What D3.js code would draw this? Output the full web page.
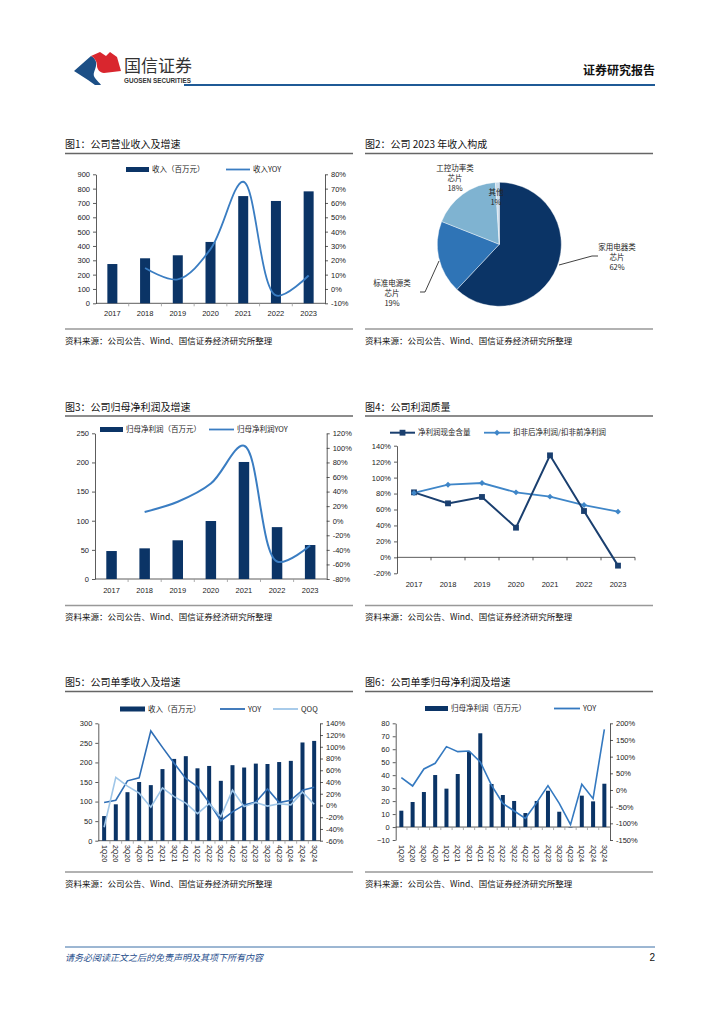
<!DOCTYPE html>
<html>
<head>
<meta charset="utf-8">
<script src="https://cdn.jsdelivr.net/npm/d3@7.9.0/dist/d3.min.js"></script>
<style>
  body { margin: 0; background: #fff; }
  svg { display: block; font-family: "Liberation Sans", "Noto Sans CJK SC", sans-serif; }
  .cn { font-family: "Noto Sans CJK SC", sans-serif; }
  .axis text { font-size: 7.5px; fill: #222; font-family: "Liberation Sans", sans-serif; }
  .axis path, .axis line { stroke: #333; stroke-width: 0.8; }
</style>
</head>
<body>
<svg id="page" width="724" height="1024"></svg>
<script>
// ---- data ----
const years = ['2017', '2018', '2019', '2020', '2021', '2022', '2023'];
const revenue = [274, 314, 335, 428, 748, 714, 781];
const revenueYoY = [null, 14.6, 6.7, 27.8, 74.8, -4.5, 9.4];

const pieLabels = [['家用电器类', '芯片'], ['标准电源类', '芯片'], ['工控功率类', '芯片'], ['其他']];
const pieShares = [62, 19, 18, 1];

const netProfit = [48, 52.6, 66.4, 99.5, 200.8, 89, 58.3];
const netProfitYoY = [null, 12, 26, 51, 103, -56, -34];

const cashContent = [81.5, 67.7, 75.7, 37.2, 127.9, 58.1, -10.4];
const deductRatio = [80.7, 91.1, 93.2, 81.5, 76.1, 65.6, 57.3];

const quarters = ['1Q20', '2Q20', '3Q20', '4Q20', '1Q21', '2Q21', '3Q21', '4Q21', '1Q22', '2Q22',
  '3Q22', '4Q22', '1Q23', '2Q23', '3Q23', '4Q23', '1Q24', '2Q24', '3Q24'];
const qRevenue = [63, 93, 124, 150, 142, 183, 209, 216, 185, 191, 153, 193, 187, 197, 196, 201, 204, 251, 255];
const qRevenueYoY = [5, 9, 42, 47, 127, 99, 72, 46, 32, 5, -26, -11, 1, 6, 28, 5, 9, 26, 31];
const qRevenueQoQ = [-37, 48, 33, 21, -3, 30, 15, 4, -14, 3, -19, 26, -2, 5, -1, 3, 1, 23, 2];

const qProfit = [12.6, 19.3, 27, 40.1, 29.6, 40.9, 58.1, 72.3, 33.2, 24.7, 20.1, 10.8, 20.1, 28, 11.8, -0.3, 24.2, 19.8, 33.4];
const qProfitYoY = [37, 12, 63, 80, 130, 115, 117, 84, 14, -40, -63, -85, -38, 13, -40, -104, 17, -26, 182];

const navy = '#0b3466';
const svg = d3.select('#page');

// ---- header / footer ----
const logo = svg.append('g');
logo.append('path')
  .attr('d', 'M74,71 L91,56 C95,58 97,62 96,66 C95,71 92,74 95,78 C97,81 100,83 101,85 L95,85 L88,80 Z')
  .attr('fill', '#1c4f86');
logo.append('path')
  .attr('d', 'M91,56 L100,52 L106,56 L110,52 L117,57 L121,71 L104,73 C100,73 97,69 97,66 C97,62 95,58 91,56 Z')
  .attr('fill', '#d9262e');
svg.append('text').attr('class', 'cn').attr('x', 124).attr('y', 72)
  .attr('font-size', 17).attr('fill', '#333').text('国信证券');
svg.append('text').attr('x', 124).attr('y', 83)
  .attr('font-size', 6.3).attr('font-weight', 'bold').attr('fill', '#333').text('GUOSEN SECURITIES');
svg.append('text').attr('class', 'cn').attr('x', 655).attr('y', 75).attr('text-anchor', 'end')
  .attr('font-size', 12).attr('font-weight', 'bold').attr('fill', '#111').text('证券研究报告');
svg.append('line').attr('x1', 184).attr('x2', 655).attr('y1', 85).attr('y2', 85)
  .attr('stroke', '#1f5a96').attr('stroke-width', 2);

svg.append('line').attr('x1', 65).attr('x2', 655).attr('y1', 947).attr('y2', 947)
  .attr('stroke', '#3b6fa6').attr('stroke-width', 1);
svg.append('text').attr('class', 'cn').attr('x', 65).attr('y', 961)
  .attr('font-size', 9).attr('font-style', 'italic').attr('fill', '#1f4e8c')
  .text('请务必阅读正文之后的免责声明及其项下所有内容');
svg.append('text').attr('x', 655).attr('y', 961).attr('text-anchor', 'end')
  .attr('font-size', 10).attr('fill', '#111').text('2');

// ---- panel frames (title, rules, source) ----
function frame(x, title, titleY, ruleY, srcY) {
  svg.append('text').attr('class', 'cn').attr('x', x).attr('y', titleY)
    .attr('font-size', 10).attr('fill', '#111').text(title);
  svg.append('line').attr('x1', x).attr('x2', x + 288).attr('y1', titleY + 5.5).attr('y2', titleY + 5.5)
    .attr('stroke', '#666').attr('stroke-width', 1.3);
  svg.append('line').attr('x1', x).attr('x2', x + 288).attr('y1', ruleY).attr('y2', ruleY)
    .attr('stroke', '#999').attr('stroke-width', 1.3);
  svg.append('text').attr('class', 'cn').attr('x', x).attr('y', srcY)
    .attr('font-size', 8.5).attr('fill', '#111').text('资料来源：公司公告、Wind、国信证券经济研究所整理');
}
frame(65, '图1：公司营业收入及增速', 148, 329, 343.5);
frame(365, '图2：公司 2023 年收入构成', 148, 329, 343.5);
frame(65, '图3：公司归母净利润及增速', 410.5, 605.5, 619.5);
frame(365, '图4：公司利润质量', 410.5, 605.5, 619.5);
frame(65, '图5：公司单季收入及增速', 686, 872, 887);
frame(365, '图6：公司单季归母净利润及增速', 686, 872, 887);

// ---- combo bar + line chart ----
function combo(c) {
  const g = svg.append('g');
  const x = d3.scaleBand().domain(c.cats).range([c.x0, c.x1]);
  const yL = d3.scaleLinear().domain(c.leftDomain).range([c.yBot, c.yTop]);
  const yR = d3.scaleLinear().domain(c.rightDomain).range([c.yBot, c.yTop]);

  g.append('g').attr('class', 'axis').attr('transform', `translate(${c.x0},0)`)
    .call(d3.axisLeft(yL).tickValues(c.leftTicks).tickSize(3).tickSizeOuter(0).tickPadding(3));
  g.append('g').attr('class', 'axis').attr('transform', `translate(${c.x1},0)`)
    .call(d3.axisRight(yR).tickValues(c.rightTicks).tickSize(3).tickSizeOuter(0).tickPadding(3)
      .tickFormat(d => d + '%'));

  const y0 = yL(0);
  g.append('line').attr('x1', c.x0).attr('x2', c.x1).attr('y1', y0).attr('y2', y0)
    .attr('stroke', '#333').attr('stroke-width', 0.8);
  g.selectAll('.xt').data(c.cats.slice(1)).join('line')
    .attr('x1', d => x(d)).attr('x2', d => x(d)).attr('y1', y0).attr('y2', y0 + 3)
    .attr('stroke', '#999').attr('stroke-width', 0.8);

  const bw = c.barWidth;
  g.selectAll('.bar').data(c.bars).join('rect')
    .attr('x', (d, i) => x(c.cats[i]) + x.bandwidth() / 2 - bw / 2)
    .attr('y', d => Math.min(yL(d), y0))
    .attr('width', bw)
    .attr('height', d => Math.abs(yL(d) - y0))
    .attr('fill', navy);

  c.lines.forEach(s => {
    const line = d3.line()
      .defined(d => d != null)
      .x((d, i) => x(c.cats[i]) + x.bandwidth() / 2)
      .y(d => yR(d))
      .curve(c.smooth ? d3.curveCatmullRom.alpha(0.5) : d3.curveLinear);
    g.append('path').datum(s.values).attr('d', line)
      .attr('fill', 'none').attr('stroke', s.color).attr('stroke-width', s.width || 1.6);
  });

  if (c.rotate) {
    g.selectAll('.xl').data(c.cats).join('text')
      .attr('transform', d => `translate(${x(d) + x.bandwidth() / 2},${c.labelY}) rotate(90)`)
      .attr('dy', '0.35em').attr('font-size', 7).attr('fill', '#222').text(d => d);
  } else {
    g.selectAll('.xl').data(c.cats).join('text')
      .attr('x', d => x(d) + x.bandwidth() / 2).attr('y', c.labelY)
      .attr('text-anchor', 'middle').attr('font-size', 7.5).attr('fill', '#222').text(d => d);
  }

  // legend
  c.legend.forEach(l => {
    if (l.type === 'bar') {
      g.append('rect').attr('x', l.x).attr('y', l.y - 2.5).attr('width', l.w).attr('height', 5).attr('fill', navy);
    } else {
      g.append('line').attr('x1', l.x).attr('x2', l.x + l.w).attr('y1', l.y).attr('y2', l.y)
        .attr('stroke', l.color).attr('stroke-width', 1.8);
    }
    g.append('text').attr('class', 'cn').attr('x', l.x + l.w + 3).attr('y', l.y).attr('dy', '0.35em')
      .attr('font-size', 7.5).attr('fill', '#222').text(l.text);
  });
}

combo({
  cats: years, bars: revenue, x0: 96, x1: 325, yTop: 174.3, yBot: 303.3,
  leftDomain: [0, 900], leftTicks: d3.range(0, 901, 100),
  rightDomain: [-10, 80], rightTicks: d3.range(-10, 81, 10),
  barWidth: 10, smooth: true, labelY: 316,
  lines: [{ values: revenueYoY, color: '#3a7dc2', width: 1.8 }],
  legend: [
    { type: 'bar', x: 126, y: 169.5, w: 23, text: '收入（百万元）' },
    { type: 'line', x: 226, y: 169.5, w: 24, color: '#3a7dc2', text: '收入YOY' }
  ]
});

combo({
  cats: years, bars: netProfit, x0: 95, x1: 326.7, yTop: 433.3, yBot: 579,
  leftDomain: [0, 250], leftTicks: d3.range(0, 251, 50),
  rightDomain: [-80, 120], rightTicks: d3.range(-80, 121, 20),
  barWidth: 10.5, smooth: true, labelY: 593,
  lines: [{ values: netProfitYoY, color: '#3a7dc2', width: 2 }],
  legend: [
    { type: 'bar', x: 100, y: 429.5, w: 23, text: '归母净利润（百万元）' },
    { type: 'line', x: 209, y: 429.5, w: 25, color: '#3a7dc2', text: '归母净利润YOY' }
  ]
});

combo({
  cats: quarters, bars: qRevenue, x0: 98.3, x1: 320, yTop: 723.3, yBot: 840.7,
  leftDomain: [0, 300], leftTicks: d3.range(0, 301, 50),
  rightDomain: [-60, 140], rightTicks: d3.range(-60, 141, 20),
  barWidth: 4, smooth: false, rotate: true, labelY: 845,
  lines: [
    { values: qRevenueYoY, color: '#2f6eb5', width: 1.6 },
    { values: qRevenueQoQ, color: '#9fc6e8', width: 1.6 }
  ],
  legend: [
    { type: 'bar', x: 120, y: 709, w: 25, text: '收入（百万元）' },
    { type: 'line', x: 220, y: 709, w: 25, color: '#2f6eb5', text: 'YOY' },
    { type: 'line', x: 273, y: 709, w: 25, color: '#9fc6e8', text: 'QOQ' }
  ]
});

combo({
  cats: quarters, bars: qProfit, x0: 395.7, x1: 610, yTop: 723.3, yBot: 840,
  leftDomain: [-10, 80], leftTicks: d3.range(-10, 81, 10),
  rightDomain: [-150, 200], rightTicks: d3.range(-150, 201, 50),
  barWidth: 4, smooth: false, rotate: true, labelY: 845,
  lines: [{ values: qProfitYoY, color: '#3479c0', width: 1.6 }],
  legend: [
    { type: 'bar', x: 425, y: 708.5, w: 23, text: '归母净利润（百万元）' },
    { type: 'line', x: 554, y: 708.5, w: 26, color: '#3479c0', text: 'YOY' }
  ]
});

// ---- chart 4: profit quality lines ----
(function () {
  const g = svg.append('g');
  const x = d3.scaleBand().domain(years).range([397, 635]);
  const y = d3.scaleLinear().domain([-20, 140]).range([573.3, 445.7]);
  g.append('g').attr('class', 'axis').attr('transform', 'translate(397,0)')
    .call(d3.axisLeft(y).tickValues(d3.range(-20, 141, 20)).tickSize(3).tickSizeOuter(0).tickPadding(3)
      .tickFormat(d => d + '%'));
  const y0 = y(0);
  g.append('line').attr('x1', 397).attr('x2', 635).attr('y1', y0).attr('y2', y0)
    .attr('stroke', '#333').attr('stroke-width', 0.8);
  g.selectAll('.xt').data(years).join('line')
    .attr('x1', (d, i) => 397 + (i + 1) * x.bandwidth()).attr('x2', (d, i) => 397 + (i + 1) * x.bandwidth())
    .attr('y1', y0).attr('y2', y0 + 3).attr('stroke', '#333').attr('stroke-width', 0.8);
  g.selectAll('.xl').data(years).join('text')
    .attr('x', d => x(d) + x.bandwidth() / 2).attr('y', 587)
    .attr('text-anchor', 'middle').attr('font-size', 7.5).attr('fill', '#222').text(d => d);

  const cx = (d, i) => x(years[i]) + x.bandwidth() / 2;
  const line = d3.line().x(cx).y(d => y(d));
  const c1 = '#1a3f6f', c2 = '#3f86c8';
  g.append('path').datum(deductRatio).attr('d', line).attr('fill', 'none').attr('stroke', c2).attr('stroke-width', 1.8);
  g.append('path').datum(cashContent).attr('d', line).attr('fill', 'none').attr('stroke', c1).attr('stroke-width', 2);
  const diamond = d3.symbol().type(d3.symbolDiamond2).size(22);
  const square = d3.symbol().type(d3.symbolSquare).size(34);
  g.selectAll('.sq').data(cashContent).join('path')
    .attr('transform', (d, i) => `translate(${cx(d, i)},${y(d)})`).attr('d', square).attr('fill', c1);
  g.selectAll('.dm').data(deductRatio).join('path')
    .attr('transform', (d, i) => `translate(${cx(d, i)},${y(d)})`).attr('d', diamond).attr('fill', c2);

  // legend
  g.append('line').attr('x1', 390).attr('x2', 415).attr('y1', 432.7).attr('y2', 432.7).attr('stroke', c1).attr('stroke-width', 2);
  g.append('path').attr('transform', 'translate(402.5,432.7)').attr('d', square).attr('fill', c1);
  g.append('text').attr('class', 'cn').attr('x', 418).attr('y', 432.7).attr('dy', '0.35em')
    .attr('font-size', 7.5).attr('fill', '#222').text('净利润现金含量');
  g.append('line').attr('x1', 484).attr('x2', 510).attr('y1', 432.7).attr('y2', 432.7).attr('stroke', c2).attr('stroke-width', 1.8);
  g.append('path').attr('transform', 'translate(497,432.7)').attr('d', diamond).attr('fill', c2);
  g.append('text').attr('class', 'cn').attr('x', 513).attr('y', 432.7).attr('dy', '0.35em')
    .attr('font-size', 7.5).attr('fill', '#222').text('扣非后净利润/扣非前净利润');
})();

// ---- chart 2: revenue mix pie ----
(function () {
  const cx = 499.3, cy = 244.3, r = 62;
  const g = svg.append('g').attr('transform', `translate(${cx},${cy})`);
  const colors = [navy, '#2f74b6', '#7fb3d1', '#c9dcec'];
  const arcs = d3.pie().sort(null).value(d => d)(pieShares);
  const arc = d3.arc().innerRadius(0).outerRadius(r);
  g.selectAll('path').data(arcs).join('path').attr('d', arc)
    .attr('fill', (d, i) => colors[i]).attr('stroke', '#fff').attr('stroke-width', 0.4);

  // leader lines
  svg.append('polyline').attr('points', '559,265 592,256 598,256')
    .attr('fill', 'none').attr('stroke', '#111').attr('stroke-width', 0.8);
  svg.append('polyline').attr('points', '439,261 425,292 420,292')
    .attr('fill', 'none').attr('stroke', '#111').attr('stroke-width', 0.8);

  const pos = [[617, 247.5], [392, 283.5], [455, 168.5], [496, 192.5]];
  pieLabels.forEach((lab, i) => {
    const t = svg.append('text').attr('class', 'cn').attr('text-anchor', 'middle')
      .attr('font-size', 7.5).attr('fill', '#222');
    lab.concat([pieShares[i] + '%']).forEach((s, k) => {
      t.append('tspan').attr('x', pos[i][0]).attr('y', pos[i][1] + k * 10).attr('dy', '0.35em').text(s);
    });
  });
})();
</script>
</body>
</html>
